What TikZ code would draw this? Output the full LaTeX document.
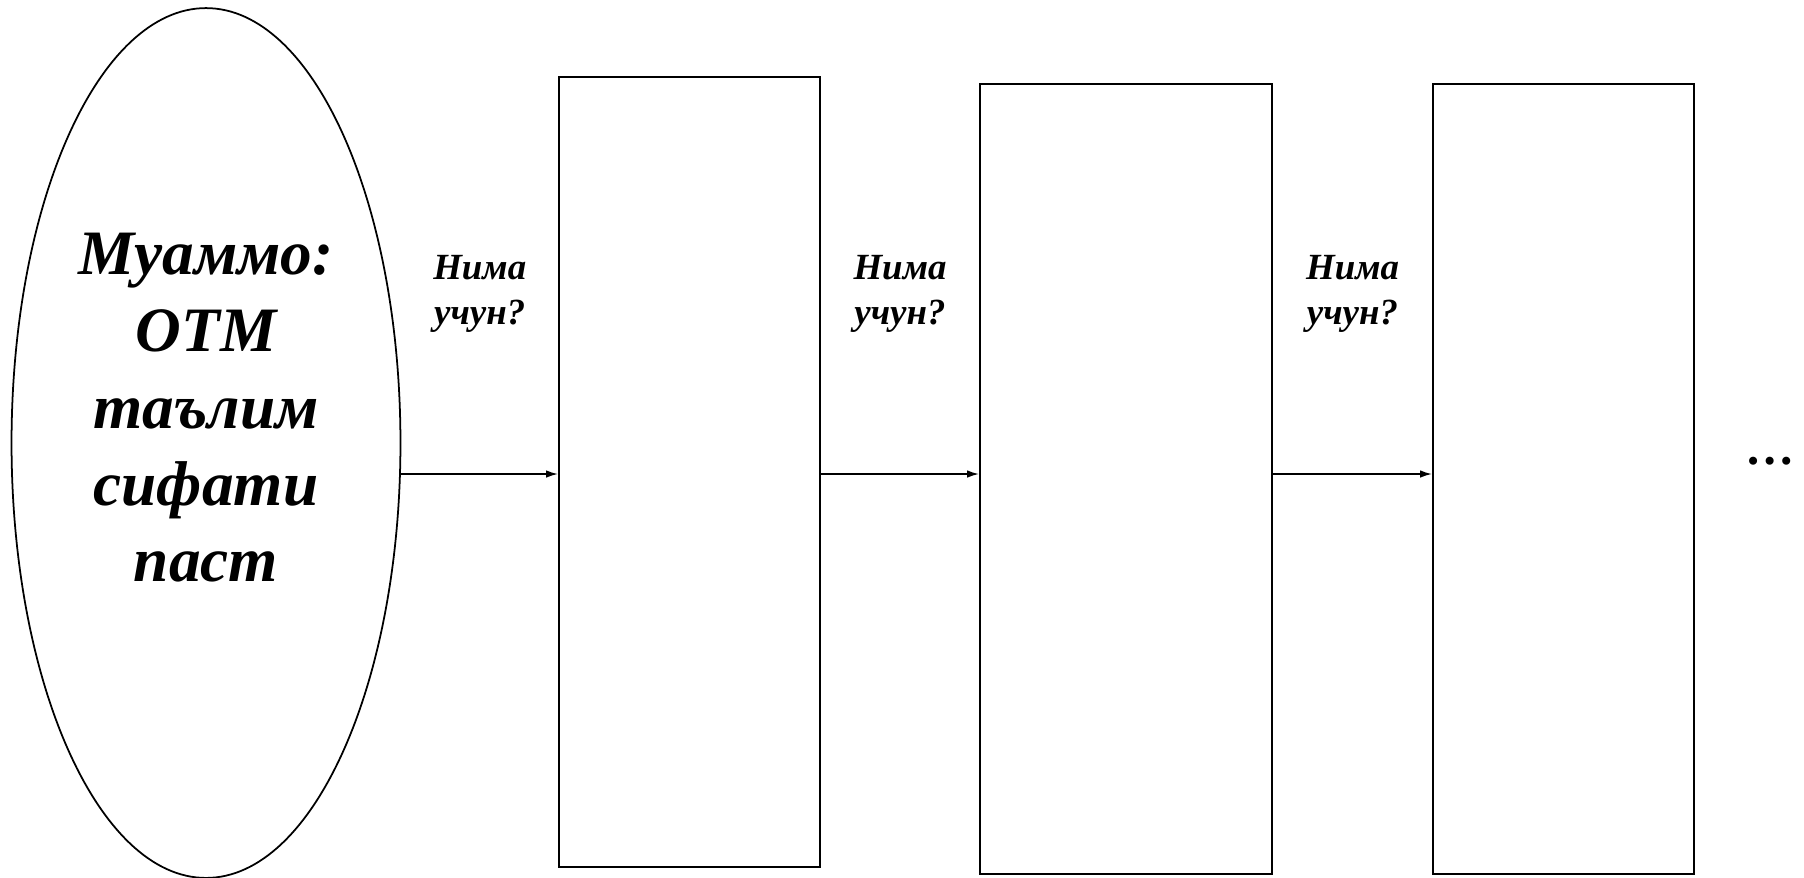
\documentclass[tikz,border=0pt]{standalone}
\usepackage{fontspec}
\setmainfont{Liberation Serif}
\usetikzlibrary{arrows.meta, positioning, shapes.geometric}

\begin{document}
\begin{tikzpicture}[
  x=0.02cm, y=-0.02cm,
  problem/.style = {draw, ellipse, line width=1pt, minimum width=7.78cm, minimum height=17.4cm, inner sep=0pt},
  bigtext/.style = {align=center, font=\fontsize{36}{43.7}\selectfont\bfseries\itshape},
  block/.style = {draw, line width=1pt, minimum height=15.8cm, inner sep=0pt},
  line/.style = {line width=1pt, -{Latex[length=2.4mm, width=1.5mm]}},
  signal/.style = {align=center, font=\fontsize{21}{25.6}\selectfont\bfseries\itshape, midway, yshift=3.6cm}
]
\useasboundingbox (0,0) rectangle (1804,877);

% Nodes
\node[problem] (ell) at (206,443) {};
\node[bigtext] (prob) at (206,408) {Муаммо:\\ОТМ\\таълим\\сифати\\паст};
\node[block, minimum width=5.22cm] (box1) at (689.5,472) {};
\node[block, minimum width=5.84cm] (box2) at (1126,479) {};
\node[block, minimum width=5.22cm] (box3) at (1563.5,479) {};
\node[anchor=base, font=\fontsize{28}{30}\selectfont\bfseries] (dots) at (1770,464) {…};

% Connections
\coordinate (row) at ([yshift=-0.04cm]box1.west);
\draw[line] (row -| ell.east) -- node[signal]{Нима\\учун?} (row);
\draw[line] (row -| box1.east) -- node[signal]{Нима\\учун?} (row -| box2.west);
\draw[line] (row -| box2.east) -- node[signal]{Нима\\учун?} (row -| box3.west);

\end{tikzpicture}
\end{document}
